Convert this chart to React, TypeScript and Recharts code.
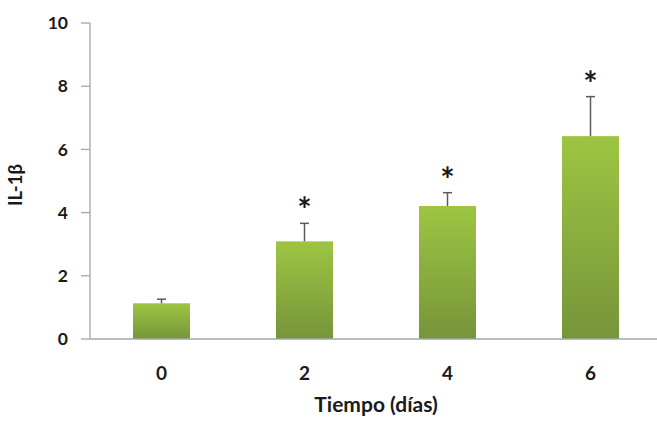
import { BarChart, Bar, XAxis, YAxis } from "recharts";

const days = ["0", "2", "4", "6"];
const il1b = [1.13, 3.09, 4.21, 6.42];
const il1bError = [0.13, 0.57, 0.42, 1.25];
const significant = [false, true, true, true];
const yTicks = [0, 2, 4, 6, 8, 10];

const data = days.map((day, i) => ({
    day,
    value: il1b[i],
    err: il1bError[i],
    sig: significant[i],
}));

const INK = {
    text: "#1a1a1a",
    axis: "#a6a6a6",
    whisker: "#5a5a5a",
    barTop: "#9dc542",
    barBottom: "#76953a",
};

const FONT = "Lato, 'Open Sans', sans-serif";

// Bar with Excel-like gradient, upper error whisker and significance star
function BarWithError(props: any) {
    const { x, y, width, height, payload } = props;
    const pxPerUnit = height / payload.value;
    const cx = x + width / 2;
    const errTop = y - payload.err * pxPerUnit;
    return (
        <g>
            <rect x={x} y={y} width={width} height={height} fill="url(#barFill)" />
            <line x1={cx} x2={cx} y1={y} y2={errTop} stroke={INK.whisker} strokeWidth={1.5} />
            <line x1={cx - 4.5} x2={cx + 4.5} y1={errTop} y2={errTop} stroke={INK.whisker} strokeWidth={1.5} />
            {payload.sig && (
                <text x={cx} y={errTop - 1} textAnchor="middle" fontFamily={FONT} fontWeight={700} fontSize={34} fill={INK.text}>
                    *
                </text>
            )}
        </g>
    );
}

function YLabel(props: any) {
    const { viewBox } = props;
    const cx = viewBox.x + 22;
    const cy = viewBox.y + viewBox.height / 2 + 4;
    return (
        <text
            x={cx}
            y={cy}
            transform={`rotate(-90, ${cx}, ${cy})`}
            textAnchor="middle"
            fontFamily={FONT}
            fontWeight={700}
            fontSize={18.5}
            fill={INK.text}
        >
            IL-1β
        </text>
    );
}

export default function App() {
    return (
        <div style={{ position: "absolute", left: 0, top: 0, width: 657, height: 427, overflow: "hidden", background: "#fff" }}>
            <BarChart
                width={670}
                height={427}
                data={data}
                margin={{ top: 23, right: 8, bottom: 8, left: 0 }}
                barSize={57}
            >
                <defs>
                    <linearGradient id="barFill" x1="0" y1="0" x2="0" y2="1">
                        <stop offset="0%" stopColor={INK.barTop} />
                        <stop offset="100%" stopColor={INK.barBottom} />
                    </linearGradient>
                </defs>
                <XAxis
                    dataKey="day"
                    height={80}
                    tickLine={false}
                    tickSize={0}
                    tickMargin={28}
                    axisLine={{ stroke: INK.axis, strokeWidth: 1.3 }}
                    tick={{ fill: INK.text, fontSize: 19, fontWeight: 700, fontFamily: FONT }}
                    label={{
                        value: "Tiempo (días)",
                        position: "insideBottom",
                        offset: 7,
                        style: { fill: INK.text, fontSize: 21, fontWeight: 700, fontFamily: FONT },
                    }}
                />
                <YAxis
                    width={90}
                    domain={[0, 10]}
                    ticks={yTicks}
                    interval={0}
                    tickSize={9}
                    tickMargin={13}
                    axisLine={{ stroke: INK.axis, strokeWidth: 1.3 }}
                    tickLine={{ stroke: INK.axis, strokeWidth: 1.3 }}
                    tick={{ fill: INK.text, fontSize: 17.5, fontWeight: 700, fontFamily: FONT }}
                    label={<YLabel />}
                />
                <Bar dataKey="value" shape={<BarWithError />} isAnimationActive={false} />
            </BarChart>
        </div>
    );
}
